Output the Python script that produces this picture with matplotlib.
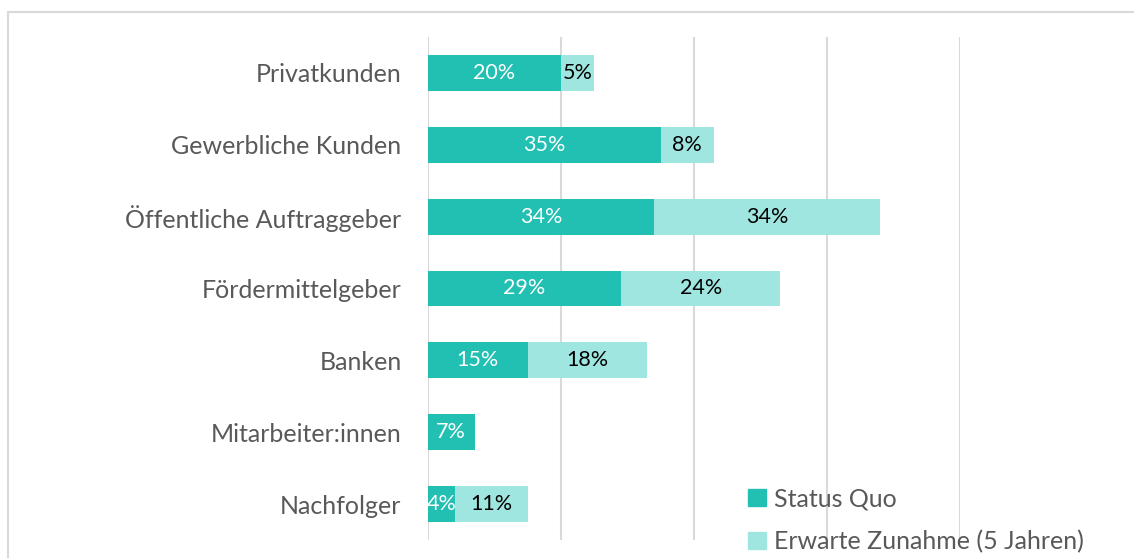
import matplotlib
matplotlib.use("Agg")
import matplotlib.pyplot as plt
from matplotlib.patches import Rectangle, Patch

categories = ["Privatkunden", "Gewerbliche Kunden", "Öffentliche Auftraggeber",
              "Fördermittelgeber", "Banken", "Mitarbeiter:innen", "Nachfolger"]
status_quo = [20, 35, 34, 29, 15, 7, 4]
zunahme = [5, 8, 34, 24, 18, 0, 11]
series_names = ["Status Quo", "Erwarte Zunahme (5 Jahren)"]
xticks = [0, 20, 40, 60, 80]

dark = "#22BFB3"
light = "#A0E6E0"
gray = "#595959"

plt.rcParams['font.family'] = ['Lato', 'DejaVu Sans']

W, H = 1134, 558
fig = plt.figure(figsize=(W / 100, H / 100), dpi=100)
fig.patches.append(Rectangle((8 / W, -0.2), 1.2, (H - 12) / H + 0.2, transform=fig.transFigure,
                             fill=False, edgecolor="#D9D9D9", linewidth=1.5))

ax = fig.add_axes([428 / W, (H - 540) / H, (960 - 428) / W, (540 - 37) / H])
y = list(range(len(categories)))
ax.barh(y, status_quo, height=0.5, color=dark, zorder=3)
ax.barh(y, zunahme, left=status_quo, height=0.5, color=light, zorder=3)

for i, (a, b) in enumerate(zip(status_quo, zunahme)):
    if a > 0:
        ax.text(a / 2, i, f"{a}%", ha="center", va="center", color="white", fontsize=15.5, zorder=4)
    if b > 0:
        ax.text(a + b / 2, i, f"{b}%", ha="center", va="center", color="black", fontsize=15.5, zorder=4)

ax.set_xlim(0, 80)
ax.set_ylim(len(categories) - 0.5, -0.5)
ax.set_xticks(xticks)
ax.set_xticklabels([])
ax.tick_params(axis="x", length=0)
ax.set_yticks(y)
ax.set_yticklabels(categories, fontsize=18, color=gray)
ax.tick_params(axis="y", length=0, pad=19)
ax.grid(axis="x", color="#D9D9D9", linewidth=1.5, zorder=0)
for s in ax.spines.values():
    s.set_visible(False)

handles = [Patch(color=dark), Patch(color=light)]
fig.legend(handles, series_names, loc="upper left",
           bbox_to_anchor=(738 / W, (H - 477) / H), frameon=False,
           fontsize=18, labelcolor=gray, handlelength=0.7, handleheight=0.7,
           handletextpad=0.35, labelspacing=0.8, borderaxespad=0)

fig.savefig("out.png", dpi=100)
